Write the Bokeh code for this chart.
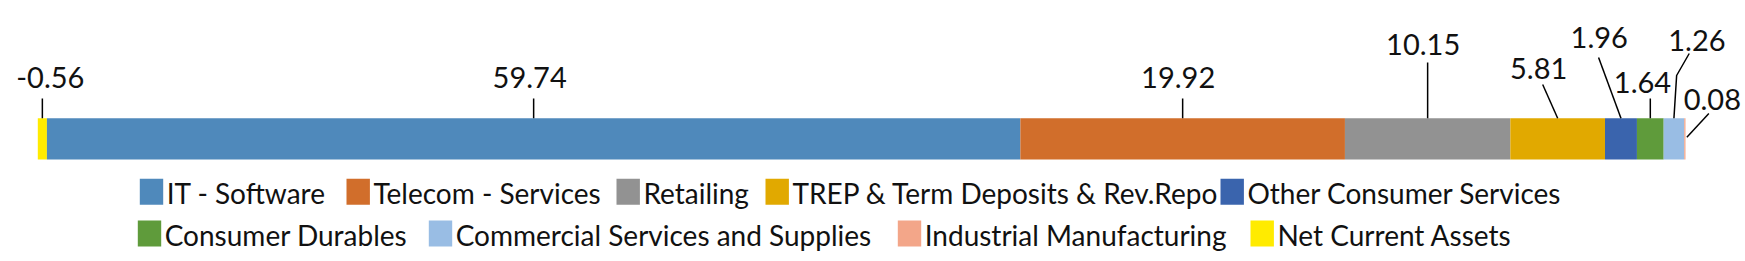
from bokeh.plotting import figure
from bokeh.models import Range1d, ColumnDataSource
from bokeh.embed import file_html
from bokeh.resources import INLINE
from bokeh.core.properties import value

# ---------------- data ----------------
categories = [
    "Net Current Assets",
    "IT - Software",
    "Telecom - Services",
    "Retailing",
    "TREP & Term Deposits & Rev.Repo",
    "Other Consumer Services",
    "Consumer Durables",
    "Commercial Services and Supplies",
    "Industrial Manufacturing",
]
values = [-0.56, 59.74, 19.92, 10.15, 5.81, 1.96, 1.64, 1.26, 0.08]

legend_row1 = ["IT - Software", "Telecom - Services", "Retailing",
               "TREP & Term Deposits & Rev.Repo", "Other Consumer Services"]
legend_row2 = ["Consumer Durables", "Commercial Services and Supplies",
               "Industrial Manufacturing", "Net Current Assets"]

# ---------------- styles / layout ----------------
colors = {
    "IT - Software": "#4F89BB",
    "Telecom - Services": "#D16E2B",
    "Retailing": "#929292",
    "TREP & Term Deposits & Rev.Repo": "#E1A900",
    "Other Consumer Services": "#3A64AD",
    "Consumer Durables": "#5F9B3B",
    "Commercial Services and Supplies": "#99BDE4",
    "Industrial Manufacturing": "#F3A689",
    "Net Current Assets": "#FFEB00",
}

W, H = 1745, 261
BAR_PX_LEFT, BAR_PX_RIGHT = 37.3, 1685.0
BAR_TOP, BAR_BOTTOM = 117.7, 159.0
FONT = "Lato"
LABEL_SIZE = 29
LEGEND_SIZE = 28

# leader line points (pixel dx from segment centre, pixel y) and text (dx, cap-middle y)
label_layout = {
    "Net Current Assets": ([(0, 117.7), (0, 98)], (8, 77)),
    "IT - Software": ([(0, 117.7), (0, 98)], (-4, 77)),
    "Telecom - Services": ([(0, 117.7), (0, 98)], (-4.5, 77)),
    "Retailing": ([(0, 117.7), (0, 62)], (-4.5, 44.3)),
    "TREP & Term Deposits & Rev.Repo": ([(0, 117.7), (-15, 84)], (-19, 68)),
    "Other Consumer Services": ([(0, 117.7), (-22.4, 57)], (-21.7, 37)),
    "Consumer Durables": ([(0, 117.7), (0, 98)], (-7.8, 82)),
    "Commercial Services and Supplies": ([(0, 117.7), (2.7, 75), (15.3, 53)], (23, 40)),
    "Industrial Manufacturing": ([(2, 136.7), (24, 113)], (27.5, 98.5)),
}

legend_row1_x = [139.3, 346.0, 616.0, 765.0, 1220.0]
legend_row2_x = [137.3, 428.3, 897.3, 1250.0]
ROW1_TOP, ROW2_TOP = 178.3, 220.0
SQ_W, SQ_H = 23.4, 26.0

# ---------------- stacking ----------------
lefts, rights = [], []
pos = 0.0
for v in values:
    if v < 0:
        lefts.append(v)
        rights.append(0.0)
    else:
        lefts.append(pos)
        rights.append(pos + v)
        pos += v

lo, hi = min(lefts), max(rights)
scale = (BAR_PX_RIGHT - BAR_PX_LEFT) / (hi - lo)
x_start = lo - BAR_PX_LEFT / scale
x_end = hi + (W - BAR_PX_RIGHT) / scale

p = figure(width=W, height=H, output_backend="svg", toolbar_location=None,
           x_range=Range1d(x_start, x_end), y_range=Range1d(H, 0),
           min_border=0, min_border_left=0, min_border_right=0,
           min_border_top=0, min_border_bottom=0)
p.axis.visible = False
p.grid.visible = False
p.outline_line_color = None
p.background_fill_color = "white"
p.border_fill_color = "white"

src = ColumnDataSource(dict(
    cat=categories, left=lefts, right=rights,
    y=[(BAR_TOP + BAR_BOTTOM) / 2] * len(values),
    color=[colors[c] for c in categories],
))
p.hbar(y="y", left="left", right="right", height=BAR_BOTTOM - BAR_TOP,
       fill_color="color", line_color=None, source=src)

# data labels + leader lines
xs, ys, tx, ty, tt = [], [], [], [], []
for c, v, l, r in zip(categories, values, lefts, rights):
    centre = (l + r) / 2
    pts, (tdx, tmy) = label_layout[c]
    xs.append([centre + dx / scale for dx, _ in pts])
    ys.append([yy for _, yy in pts])
    tx.append(centre + tdx / scale)
    ty.append(tmy)
    tt.append(f"{v:.2f}")

p.multi_line(xs=xs, ys=ys, line_color="black", line_width=1.5)
p.text(x=tx, y=ty, text=tt, text_font=value(FONT), text_font_size=f"{LABEL_SIZE}px",
       text_align="center", text_baseline="middle", text_color="#111111")

# legend (drawn in pixel space)
p.extra_x_ranges = {"px": Range1d(0, W)}
lx, ly, lc, lt, ltx = [], [], [], [], []
for names, xpos, top in ((legend_row1, legend_row1_x, ROW1_TOP),
                         (legend_row2, legend_row2_x, ROW2_TOP)):
    for n, x0 in zip(names, xpos):
        lx.append(x0 + SQ_W / 2)
        ly.append(top + SQ_H / 2)
        lc.append(colors[n])
        lt.append(n)
        ltx.append(x0 + SQ_W + 3.5)

p.rect(x=lx, y=ly, width=SQ_W, height=SQ_H, fill_color=lc, line_color=None,
       x_range_name="px")
p.text(x=ltx, y=[y + 1.5 for y in ly], text=lt, text_font=value(FONT),
       text_font_size=f"{LEGEND_SIZE}px", text_align="left", text_baseline="middle",
       text_color="#111111", x_range_name="px")

open("out.html", "w").write(file_html(p, INLINE))
